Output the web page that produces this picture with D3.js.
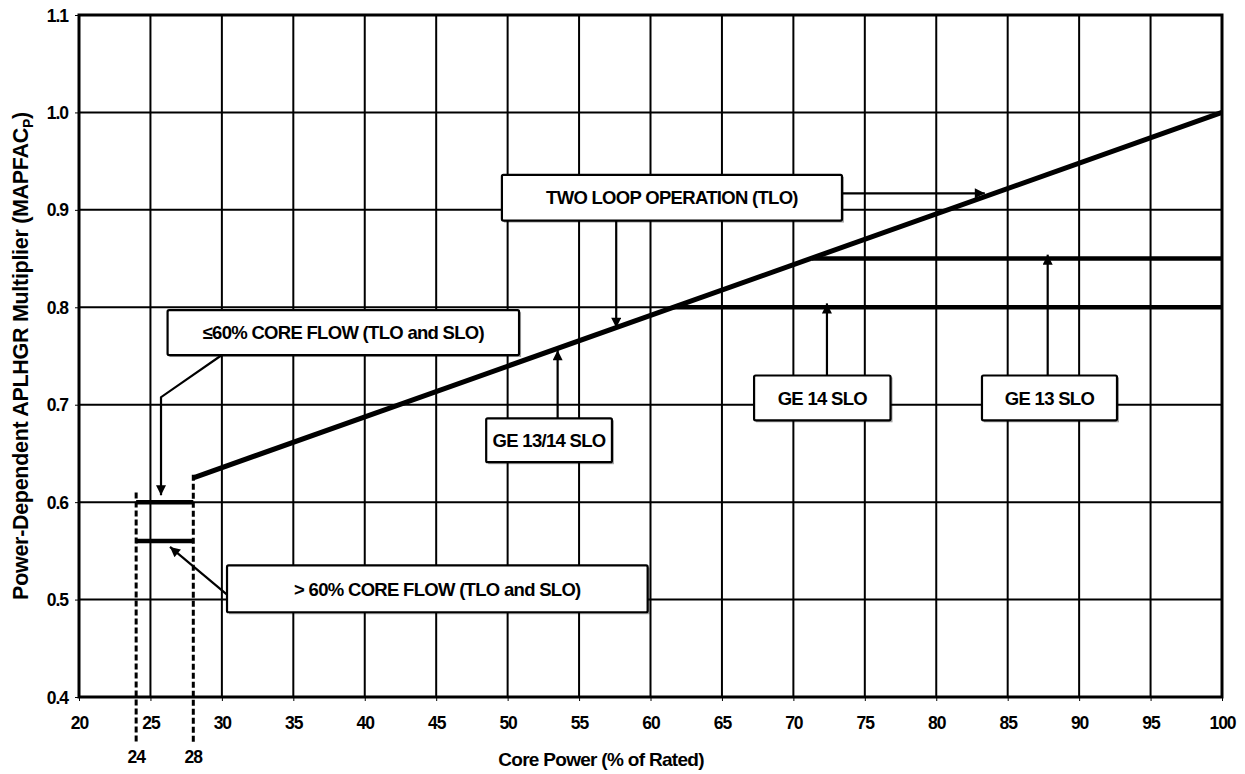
<!DOCTYPE html>
<html>
<head>
<meta charset="utf-8">
<script src="https://cdn.jsdelivr.net/npm/d3@7/dist/d3.min.js"></script>
<style>
body{margin:0;background:#fff;}
text{font-family:"Liberation Sans",Arial,sans-serif;font-weight:bold;fill:#000;}
</style>
</head>
<body>
<svg id="c" width="1245" height="774"></svg>
<script>
// ---- data ----
const xTicks = [20,25,30,35,40,45,50,55,60,65,70,75,80,85,90,95,100];
const yTicks = [0.4,0.5,0.6,0.7,0.8,0.9,1.0,1.1];
const extraXTicks = [24,28];
const tloX = [28,100];          const tloY = [0.625,1.0];
const ge14X = [61.5,100];       const ge14Y = [0.80,0.80];
const ge13X = [71.3,100];       const ge13Y = [0.85,0.85];
const lowFlowX = [24,28];       const lowFlowY = [0.60,0.60];
const highFlowX = [24,28];      const highFlowY = [0.56,0.56];

// annotation boxes (data coordinates)
const boxLabels = ["TWO LOOP OPERATION (TLO)","≤60% CORE FLOW (TLO and SLO)","GE 13/14 SLO","GE 14 SLO","GE 13 SLO","> 60% CORE FLOW (TLO and SLO)"];
const boxX0 = [49.6, 26.2, 48.5, 67.25, 83.2, 30.36];
const boxX1 = [73.4, 50.8, 57.3, 76.8, 92.65, 59.8];
const boxY0 = [0.936, 0.797, 0.686, 0.730, 0.730, 0.535];
const boxY1 = [0.889, 0.751, 0.641, 0.684, 0.684, 0.487];
// arrows: polyline points [x,y] in data coords, arrowhead at last point
const arrows = [
  [[73.4,0.917],[83.4,0.917]],
  [[57.6,0.889],[57.6,0.779]],
  [[30.0,0.751],[25.74,0.7077],[25.74,0.607]],
  [[53.5,0.686],[53.5,0.756]],
  [[72.35,0.730],[72.35,0.804]],
  [[87.8,0.730],[87.8,0.854]],
  [[30.57,0.5026],[26.37,0.554]]
];

// ---- layout ----
const L=79, R=1222, T=15, B=697;
const svg = d3.select("#c");
const x = d3.scaleLinear().domain([20,100]).range([L,R]);
const y = d3.scaleLinear().domain([0.4,1.1]).range([B,T]);

// grid
const g = svg.append("g");
g.selectAll(".vg").data(xTicks.slice(1,-1)).join("line")
  .attr("x1",d=>x(d)).attr("x2",d=>x(d)).attr("y1",T).attr("y2",B)
  .attr("stroke","#000").attr("stroke-width",2);
g.selectAll(".hg").data(yTicks.slice(1,-1)).join("line")
  .attr("y1",d=>y(d)).attr("y2",d=>y(d)).attr("x1",L).attr("x2",R)
  .attr("stroke","#000").attr("stroke-width",2);

// axes
const xAxis = d3.axisBottom(x).tickValues(xTicks).tickSize(4).tickFormat(d3.format("d"));
const ax = svg.append("g").attr("transform",`translate(0,${B})`).call(xAxis);
ax.select(".domain").remove();
ax.selectAll("line").attr("stroke","#000").attr("stroke-width",1);
ax.selectAll("text").attr("dy",null).attr("y",32).style("font-size","17.5px").style("letter-spacing","-1px");

const yAxis = d3.axisLeft(y).tickValues(yTicks).tickSize(4).tickFormat(d3.format(".1f"));
const ay = svg.append("g").attr("transform",`translate(${L},0)`).call(yAxis);
ay.select(".domain").remove();
ay.selectAll("line").attr("stroke","#000").attr("stroke-width",1);
ay.selectAll("text").attr("x",-11).attr("dy","0.35em").style("font-size","17.5px").style("letter-spacing","-1px");

// dashed lines at 24 and 28
const dashTop = [0.61, 0.628];
svg.selectAll(".dash").data(extraXTicks).join("line")
  .attr("x1",d=>x(d)).attr("x2",d=>x(d))
  .attr("y1",(d,i)=>y(dashTop[i])).attr("y2",743)
  .attr("stroke","#000").attr("stroke-width",3).attr("stroke-dasharray","6,3");
svg.selectAll(".xt2").data(extraXTicks).join("text")
  .attr("x",d=>x(d)).attr("y",763).attr("text-anchor","middle")
  .style("font-size","17.5px").style("letter-spacing","-1px").text(d=>d);

// border
svg.append("rect").attr("x",L).attr("y",T).attr("width",R-L).attr("height",B-T)
  .attr("fill","none").attr("stroke","#000").attr("stroke-width",3);

// data lines
const line = d3.line().x(d=>x(d[0])).y(d=>y(d[1]));
const series = [
  {xs:tloX, ys:tloY, w:5},
  {xs:ge14X, ys:ge14Y, w:4.5},
  {xs:ge13X, ys:ge13Y, w:4.5},
  {xs:lowFlowX, ys:lowFlowY, w:4.5},
  {xs:highFlowX, ys:highFlowY, w:4.5}
];
series.forEach(s=>{
  svg.append("path").attr("d",line(s.xs.map((v,i)=>[v,s.ys[i]])))
    .attr("fill","none").attr("stroke","#000").attr("stroke-width",s.w).attr("stroke-linecap","butt");
});

// arrows
svg.append("defs").append("marker").attr("id","ah").attr("viewBox","0 0 10 10")
  .attr("refX",10).attr("refY",5).attr("markerWidth",11).attr("markerHeight",10)
  .attr("markerUnits","userSpaceOnUse").attr("orient","auto")
  .append("path").attr("d","M0,0 L10,5 L0,10 Z").attr("fill","#000");
arrows.forEach(a=>{
  svg.append("path").attr("d",line(a)).attr("fill","none").attr("stroke","#000")
    .attr("stroke-width",2.2).attr("marker-end","url(#ah)");
});

// boxes
boxLabels.forEach((lab,i)=>{
  const x0=x(boxX0[i]), x1=x(boxX1[i]), y0=y(boxY0[i]), y1=y(boxY1[i]);
  svg.append("rect").attr("x",x0+2).attr("y",y0+2).attr("width",x1-x0).attr("height",y1-y0)
    .attr("fill","#000").attr("opacity",0.35);
  svg.append("rect").attr("x",x0).attr("y",y0).attr("width",x1-x0).attr("height",y1-y0)
    .attr("fill","#fff").attr("stroke","#000").attr("stroke-width",2.2).attr("rx",1.5);
  svg.append("text").attr("x",(x0+x1)/2).attr("y",(y0+y1)/2).attr("dy","0.36em")
    .attr("text-anchor","middle").style("font-size","18.5px").style("letter-spacing","-0.7px").text(lab);
});

// axis titles
svg.append("text").attr("x",601).attr("y",766).attr("text-anchor","middle")
  .style("font-size","19px").style("letter-spacing","-0.7px").text("Core Power (% of Rated)");
const yt = svg.append("text").attr("transform","translate(28,356) rotate(-90)").attr("text-anchor","middle")
  .style("font-size","21.5px").style("letter-spacing","-0.3px");
yt.append("tspan").text("Power-Dependent APLHGR Multiplier (MAPFAC");
yt.append("tspan").attr("dy",5).style("font-size","14px").text("P");
yt.append("tspan").attr("dy",-5).text(")");
</script>
</body>
</html>
